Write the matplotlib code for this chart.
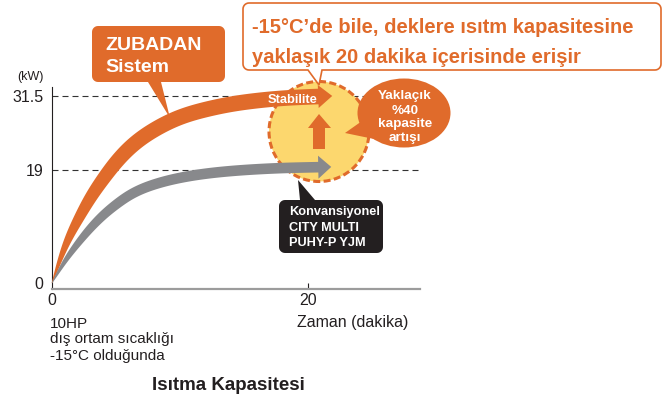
import matplotlib

matplotlib.use("Agg")
import matplotlib.pyplot as plt
import numpy as np
from matplotlib.patches import Circle, Ellipse, Polygon

# ──── DATA ───────────────────────────────────────────────────────────────────

time_min = [0, 1, 2, 3, 4, 5, 6, 8, 10, 12, 14, 16, 18, 20.8]
zubadan_kw = [0, 6.0, 10.5, 14.3, 17.5, 20.3, 22.6, 25.8, 27.9, 29.2, 30.1, 30.7, 31.1, 31.4]
conv_kw = [0, 3.6, 6.6, 9.2, 11.4, 13.2, 14.7, 16.6, 17.7, 18.4, 18.85, 19.15, 19.35, 19.5]

yticks = [0, 19, 31.5]
ytick_labels = ["0", "19", "31.5"]
xticks = [0, 20]
xtick_labels = ["0", "20"]

# ──── PLOT SETTINGS ──────────────────────────────────────────────────────────

plt.rcParams["font.family"] = ["Liberation Sans", "DejaVu Sans"]
orange = "#E06B2B"
grey = "#88898C"
dark = "#231F20"
yellow = "#FCD76E"

W, H = 663, 403
fig = plt.figure(figsize=(W / 100, H / 100), dpi=100)
fig.patch.set_facecolor("white")

# data axes, placed in pixels: y axis at x=52, x axis at y=289
ax = fig.add_axes([52 / W, (H - 289) / H, (420 - 52) / W, (289 - 87) / H], zorder=1)
ax.set_xlim(0, 28.75)
ax.set_ylim(-1.01, 33.0)
for s in ["top", "right"]:
    ax.spines[s].set_visible(False)
ax.spines["left"].set_linewidth(0.8)
ax.spines["left"].set_color(dark)
ax.spines["bottom"].set_linewidth(1.6)
ax.spines["bottom"].set_color("#9C9C9C")
ax.set_facecolor("none")
ax.set_xticks(xticks, xtick_labels)
ax.set_yticks(yticks, ytick_labels)
ax.tick_params(axis="x", direction="in", length=4, width=0.8, color=dark, pad=3, labelsize=11.5, labelcolor=dark)
ax.tick_params(axis="y", length=0, pad=6, labelsize=11.5, labelcolor=dark)
ax.xaxis.get_major_ticks()[0].tick1line.set_visible(False)
for v in yticks[1:]:
    ax.axhline(v, color="#333333", lw=0.8, ls=(0, (5.4, 3.6)), zorder=0)

# overlay axes in pixel coordinates (y downward) for the drawing
ov = fig.add_axes([0, 0, 1, 1], zorder=2)
ov.set_xlim(0, W)
ov.set_ylim(H, 0)
ov.axis("off")
ov.patch.set_visible(False)


def to_ov(p):
    return ov.transData.inverted().transform(p)


def spline(x, y, xs):
    # natural cubic spline through the read-off points, only for a smooth outline
    x, y = np.asarray(x, float), np.asarray(y, float)
    n, h = len(x), np.diff(x)
    A, b = np.zeros((n, n)), np.zeros(n)
    A[0, 0] = A[-1, -1] = 1
    for i in range(1, n - 1):
        A[i, i - 1], A[i, i], A[i, i + 1] = h[i - 1], 2 * (h[i - 1] + h[i]), h[i]
        b[i] = 3 * ((y[i + 1] - y[i]) / h[i] - (y[i] - y[i - 1]) / h[i - 1])
    c = np.linalg.solve(A, b)
    bb = (y[1:] - y[:-1]) / h - h * (2 * c[:-1] + c[1:]) / 3
    d = (c[1:] - c[:-1]) / (3 * h)
    i = np.clip(np.searchsorted(x, xs) - 1, 0, n - 2)
    dx = xs - x[i]
    return y[i] + bb[i] * dx + c[i] * dx**2 + d[i] * dx**3


def ribbon(t, kw, wmax, color, head_len, head_half):
    tt = np.linspace(t[0], t[-1], 400)
    xy = ax.transData.transform(np.column_stack([tt, spline(t, kw, tt)]))
    d = np.gradient(xy, axis=0)
    d /= np.linalg.norm(d, axis=1)[:, None]
    nrm = np.column_stack([-d[:, 1], d[:, 0]])
    w = (wmax * (1 - np.exp(-tt / 2.0)) / 2 + 0.3)[:, None]
    end, de, ne = xy[-1], d[-1], nrm[-1]
    head = [end + ne * head_half, end + de * head_len, end - ne * head_half]
    poly = np.vstack([xy + nrm * w, head, (xy - nrm * w)[::-1]])
    ov.add_patch(Polygon(to_ov(poly), closed=True, fc=color, ec="none", zorder=3))


def box(x0, y0, x1, y1, r, side, b0, b1, tip):
    def arc(cx, cy, a0, a1):
        a = np.radians(np.linspace(a0, a1, 8))
        return list(zip(cx + r * np.cos(a), cy + r * np.sin(a)))

    pts = arc(x0 + r, y0 + r, 180, 270)
    if side == "top":
        pts += [(b0, y0), tip, (b1, y0)]
    pts += arc(x1 - r, y0 + r, 270, 360)
    pts += arc(x1 - r, y1 - r, 0, 90)
    if side == "bottom":
        pts += [(b1, y1), tip, (b0, y1)]
    pts += arc(x0 + r, y1 - r, 90, 180)
    return pts


# stability circle
ov.add_patch(Circle((319, 131.5), 50, fc=yellow, ec=orange, lw=2.2, ls=(0, (2.3, 1.1)), zorder=1))

# capacity curves
ribbon(time_min, zubadan_kw, 15, orange, 14, 11.5)
ribbon(time_min, conv_kw, 10, grey, 13, 11.5)

# up arrow inside the circle
ov.add_patch(Polygon([(313, 149), (313, 128), (308, 128), (319, 114), (331, 128), (325, 128), (325, 149)],
                     fc=orange, ec="none", zorder=4))

# "%40" bubble
ov.add_patch(Ellipse((404, 113), 93, 69, fc=orange, ec="none", zorder=4))
ov.add_patch(Polygon([(362, 121), (345, 133), (374, 139)], fc=orange, ec="none", zorder=4))
for txt, yb in zip(["Yaklaçık", "%40", "kapasite", "artışı"], [99.5, 113.5, 127, 141]):
    ov.text(405, yb, txt, ha="center", va="baseline", color="white", fontsize=9.7, fontweight="bold", zorder=5)

# top callout
ov.add_patch(Polygon(box(243, 3, 661, 70, 6, "bottom", 308, 322, (319, 85)),
                     fc="white", ec=orange, lw=1.2, zorder=4))
ov.text(252, 33, "-15°C’de bile, deklere ısıtm kapasitesine", color=orange, fontsize=14.5,
        fontweight="bold", va="baseline", zorder=5)
ov.text(252, 63, "yaklaşık 20 dakika içerisinde erişir", color=orange, fontsize=14.5,
        fontweight="bold", va="baseline", zorder=5)

# ZUBADAN callout
ov.add_patch(Polygon(box(92, 26, 225, 82, 6, "bottom", 148, 161, (170, 118)), fc=orange, ec="none", zorder=4))
ov.text(105, 50.5, "ZUBADAN", color="white", fontsize=14, fontweight="bold", va="baseline", zorder=5)
ov.text(105, 72.5, "Sistem", color="white", fontsize=14, fontweight="bold", va="baseline", zorder=5)

# conventional callout
ov.add_patch(Polygon(box(279, 200, 383, 253, 6, "top", 300, 315, (298, 180)), fc=dark, ec="none", zorder=4))
for txt, yb in zip(["Konvansiyonel", "CITY MULTI", "PUHY-P YJM"], [215, 231, 246]):
    ov.text(289, yb, txt, color="white", fontsize=9.2, fontweight="bold", va="baseline", zorder=5)

ov.text(293, 103, "Stabilite", color="white", fontsize=9.3, fontweight="bold", ha="center", va="baseline", zorder=5)

# labels
ov.text(30, 77, "(kW)", color=dark, fontsize=9, ha="center", va="center")
ov.text(297, 327.5, "Zaman (dakika)", color=dark, fontsize=11.5, va="baseline")
for txt, yb in zip(["10HP", "dış ortam sıcaklığı", "-15°C olduğunda"], [327.5, 343.5, 360]):
    ov.text(50, yb, txt, color=dark, fontsize=11, va="baseline")
ov.text(228, 390, "Isıtma Kapasitesi", color=dark, fontsize=13.5, fontweight="bold", ha="center", va="baseline")

fig.savefig("out.png", dpi=100)
